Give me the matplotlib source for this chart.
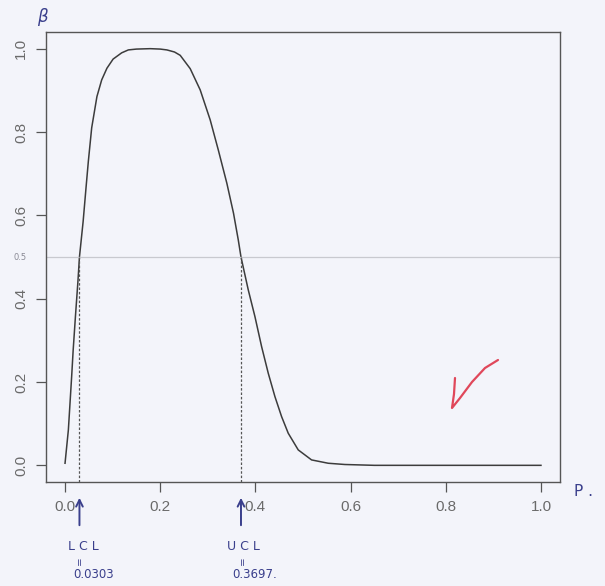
import matplotlib
matplotlib.use("Agg")
import matplotlib.pyplot as plt
from matplotlib.lines import Line2D
import matplotlib.transforms as mtransforms

# Data (beta / OC curve of p-chart)
p_vals = [0.0, 0.007, 0.0105, 0.014, 0.017, 0.022, 0.027, 0.0303, 0.038, 0.044,
          0.049, 0.056, 0.067, 0.077, 0.088, 0.101, 0.119, 0.133, 0.150, 0.179,
          0.200, 0.214, 0.230, 0.242, 0.263, 0.284, 0.305, 0.322, 0.340, 0.354,
          0.364, 0.3697, 0.385, 0.399, 0.413, 0.427, 0.441, 0.455, 0.469, 0.490,
          0.518, 0.553, 0.588, 0.65, 0.75, 0.85, 1.0]
beta_vals = [0.005, 0.085, 0.15, 0.215, 0.275, 0.36, 0.44, 0.5, 0.585, 0.665,
             0.73, 0.81, 0.885, 0.925, 0.953, 0.975, 0.99, 0.997, 0.999, 1.0,
             0.999, 0.997, 0.992, 0.984, 0.952, 0.901, 0.829, 0.757, 0.677, 0.605,
             0.541, 0.5, 0.421, 0.357, 0.285, 0.221, 0.165, 0.117, 0.077, 0.037,
             0.013, 0.005, 0.002, 0.0, 0.0, 0.0, 0.0]
lcl = 0.0303
ucl = 0.3697
ref_level = 0.5
x_ticks = [0.0, 0.2, 0.4, 0.6, 0.8, 1.0]
y_ticks = [0.0, 0.2, 0.4, 0.6, 0.8, 1.0]
lcl_label = ["L C L", "=", "0.0303"]
ucl_label = ["U C L", "=", "0.3697."]

paper = "#f3f4fa"
ink = "#3a3f8c"
W, H = 605, 586

fig = plt.figure(figsize=(W / 100, H / 100), dpi=100, facecolor=paper)
ax = fig.add_axes([46 / W, 1 - 482 / H, (560 - 46) / W, (482 - 32) / H])
ax.set_facecolor(paper)

ax.plot(p_vals, beta_vals, color="#3c3c3c", lw=1.1)
ax.axhline(ref_level, color="#c8c9cf", lw=0.9)
for v in (lcl, ucl):
    ax.plot([v, v], [-0.04, ref_level], color="#555555", lw=0.9, ls=(0, (2, 1.5)))

ax.set_xlim(-0.04, 1.04)
ax.set_ylim(-0.04, 1.04)
ax.set_xticks(x_ticks)
ax.set_yticks(y_ticks)
ax.set_xticklabels([f"{t:.1f}" for t in x_ticks], fontfamily="Liberation Sans",
                   fontsize=11, color="#6a6a6a")
ax.set_yticklabels([f"{t:.1f}" for t in y_ticks], fontfamily="Liberation Sans",
                   fontsize=11, color="#6a6a6a", rotation=90, va="center")
ax.tick_params(axis="both", length=7, width=0.9, color="#555555", pad=6)
for s in ax.spines.values():
    s.set_color("#555555")
    s.set_linewidth(1.0)

# Handwritten-like annotations
hand = dict(fontfamily="DejaVu Sans", color=ink)
blend = mtransforms.blended_transform_factory(ax.transData, ax.transAxes)

def fy(py):
    return (482 - py) / 450.0  # axes fraction from figure pixel row

for val, lab, xs in ((lcl, lcl_label, (83 / W, 80 / W, 94 / W)),
                     (ucl, ucl_label, (243 / W, 243 / W, 255 / W))):
    ax.annotate("", xy=(val, fy(495)), xytext=(val, fy(528)),
                xycoords=blend, textcoords=blend,
                arrowprops=dict(arrowstyle="->", color=ink, lw=1.4,
                                mutation_scale=12), annotation_clip=False)
    fig.text(xs[0], 1 - 547 / H, lab[0], ha="center", va="center", fontsize=9, **hand)
    fig.text(xs[1], 1 - 561 / H, lab[1], ha="center", va="center", fontsize=7.5,
             rotation=90, **hand)
    fig.text(xs[2], 1 - 575 / H, lab[2], ha="center", va="center", fontsize=8.5, **hand)

fig.text(42 / W, 1 - 17 / H, "β", ha="center", va="center", fontsize=12,
         fontstyle="italic", **hand)
fig.text(583 / W, 1 - 492 / H, "P .", ha="center", va="center", fontsize=11, **hand)
fig.text(20 / W, 1 - 258 / H, "0.5", ha="center", va="center", fontsize=6,
         color="#8a8a95", fontfamily="DejaVu Sans")

# red check mark
chk_x = [455, 454, 452, 460, 472, 485, 498]
chk_y = [378, 394, 408, 398, 382, 368, 360]
fig.add_artist(Line2D([x / W for x in chk_x], [1 - y / H for y in chk_y],
                      transform=fig.transFigure, color="#e0475a", lw=1.6,
                      solid_capstyle="round", solid_joinstyle="round"))

fig.savefig("out.png", dpi=100, facecolor=paper)
